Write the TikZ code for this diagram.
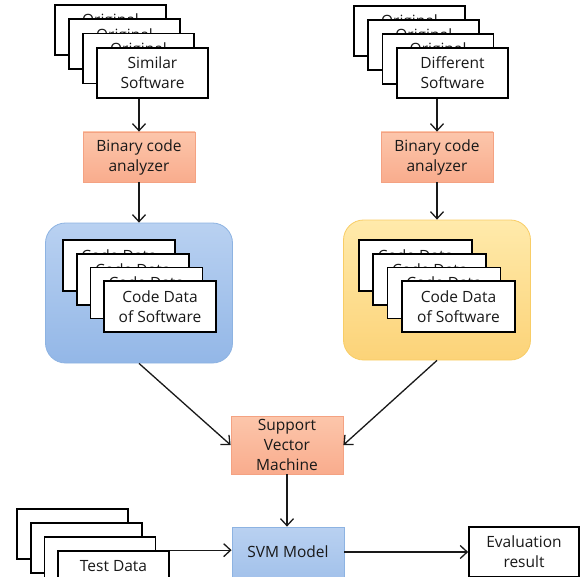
\documentclass[tikz,border=0pt]{standalone}
\usepackage{fontspec}
\setmainfont{Open Sans}
\usetikzlibrary{arrows.meta,positioning}

\definecolor{peachtop}{HTML}{FCC6AB}
\definecolor{peachbot}{HTML}{F9AC8D}
\definecolor{peachline}{HTML}{F4A282}
\definecolor{bluetop}{HTML}{B9D1F1}
\definecolor{bluebot}{HTML}{93B7E7}
\definecolor{blueline}{HTML}{8DB3E2}
\definecolor{goldtop}{HTML}{FFEAAB}
\definecolor{goldbot}{HTML}{FCD378}
\definecolor{goldline}{HTML}{F8CD66}

\begin{document}
\begin{tikzpicture}[
  x=1pt, y=-1pt,
  font=\fontsize{15.5}{20}\selectfont,
  text=black!90,
  doc/.style={
    draw=black,
    line width=1.7pt,
    fill=white,
    align=center,
    inner sep=0pt,
    minimum width=111pt,
    minimum height=50pt
  },
  tool/.style={
    draw=peachline,
    line width=0.8pt,
    top color=peachtop,
    bottom color=peachbot,
    align=center,
    inner sep=0pt,
    minimum width=112pt,
    minimum height=50pt
  },
  pool/.style={
    line width=0.8pt,
    rounded corners=20pt,
    inner sep=0pt,
    minimum width=187pt,
    minimum height=140pt
  },
  arrow/.style={-{Straight Barb[length=7pt,width=13pt]}, line width=1.3pt, draw=black!90}
]
\clip (0,0) rectangle (580,577);

% input software
\foreach \i in {0,1,2}
  \node[doc] (sim\i) at ({110.5+14*\i},{30+14.3*\i}) {Original\\Software};
\node[doc] (sim3) at (152.5,73) {Similar\\Software};

\foreach \i in {0,1,2}
  \node[doc] (dif\i) at ({409.5+14.3*\i},{31+14*\i}) {Original\\Software};
\node[doc] (dif3) at (452.5,73) {Different\\Software};

% analyzers
\node[tool] (anaL) at (139,157) {Binary code\\analyzer};
\node[tool] (anaR) at (437,157) {Binary code\\analyzer};

% code data pools
\node[pool, draw=blueline, top color=bluetop, bottom color=bluebot] (poolL) at (139,293) {};
\node[pool, draw=goldline, top color=goldtop, bottom color=goldbot] (poolR) at (437,290) {};

\foreach \i in {0,1,2}
  \node[doc, minimum width=112pt, minimum height=51pt] (codeL\i) at ({119+13.7*\i},{265.5+13.7*\i}) {Code Data\\of Software};
\node[doc, minimum width=112pt, minimum height=51pt] (codeL3) at (160,306.5) {Code Data\\of Software};

\foreach \i in {0,1,2}
  \node[doc, minimum width=113pt, minimum height=51pt] (codeR\i) at ({415.5+14.3*\i},{265.5+13.7*\i}) {Code Data\\of Software};
\node[doc, minimum width=113pt, minimum height=51pt] (codeR3) at (458.5,306.5) {Code Data\\of Software};

% classifier
\node[tool, minimum height=58pt] (svm) at (287,445) {Support\\Vector\\Machine};
\node[tool, draw=blueline, top color=bluetop, bottom color=bluebot!85!white] (model) at (288,552) {SVM Model};

% test data
\foreach \i in {0,1,2}
  \node[doc] (test\i) at ({72.5+13.7*\i},{534+14*\i}) {};
\node[doc] (test3) at (113.5,576) {Test Data\\\mbox{}};

\node[doc, minimum width=110pt] (eval) at (524,552) {Evaluation\\result};

\draw[arrow] (sim3.south -| anaL.north) -- (anaL.north);
\draw[arrow] (dif3.south -| anaR.north) -- (anaR.north);
\draw[arrow] (anaL) -- (poolL.north);
\draw[arrow] (anaR) -- (poolR.north);
\draw[arrow] (poolL.south) -- (svm.west);
\draw[arrow] (poolR.south) -- (svm.east);
\draw[arrow] (svm.south) -- (svm.south |- model.north);
\draw[arrow] (test3.north east) -- (test3.north east -| model.west);
\draw[arrow] (model) -- (eval);

\end{tikzpicture}
\end{document}
